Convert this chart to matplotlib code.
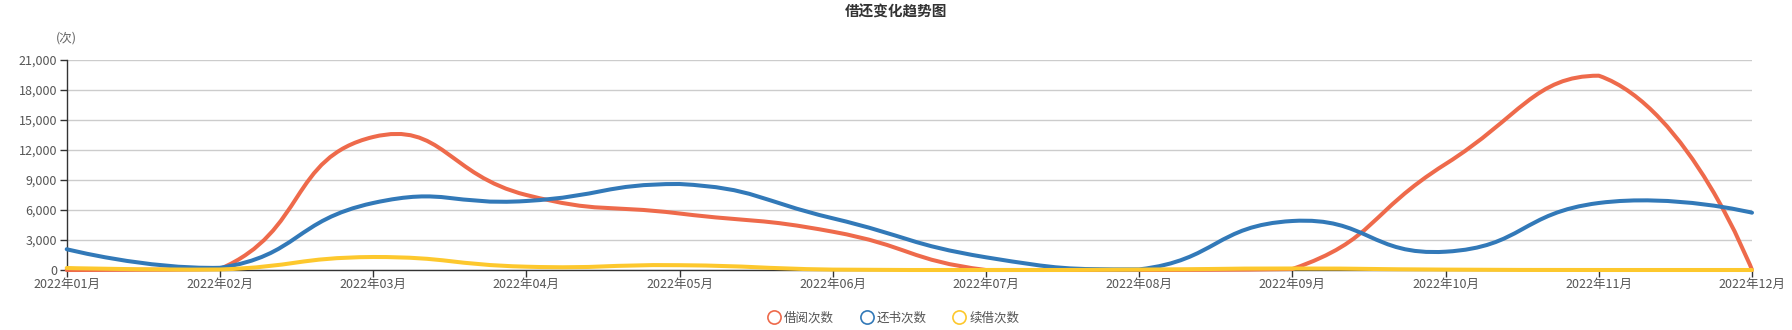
import numpy as np
import matplotlib
matplotlib.use("Agg")
import matplotlib.pyplot as plt
from matplotlib.path import Path
from matplotlib.patches import PathPatch
from matplotlib.lines import Line2D
from matplotlib.ticker import FuncFormatter, MultipleLocator

plt.rcParams['font.family'] = ['Noto Sans CJK SC', 'DejaVu Sans']

months = ['2022年01月', '2022年02月', '2022年03月', '2022年04月', '2022年05月', '2022年06月',
          '2022年07月', '2022年08月', '2022年09月', '2022年10月', '2022年11月', '2022年12月']
borrow = [0, 100, 13300, 7500, 5650, 3830, 0, 0, 100, 10600, 19430, 0]
returned = [2080, 220, 6700, 6900, 8600, 5170, 1270, 60, 4900, 1830, 6700, 5730]
renew = [200, 50, 1300, 330, 480, 40, 0, 40, 150, 40, 0, 0]
names = ['借阅次数', '还书次数', '续借次数']
colors = ['#ee6a4b', '#3279b8', '#fdc82d']

# rough pixel scale of the reference, used so the smoothing behaves like echarts
SX, SY = 153.2, 0.01


def smooth_path(vals, smooth=0.5):
    # echarts-style bezier smoothing, control points kept inside the data bbox
    pts = np.array([(i * SX, v * SY) for i, v in enumerate(vals)])
    lo, hi = pts.min(axis=0), pts.max(axis=0)
    n = len(pts)
    cin, cout = pts.copy(), pts.copy()
    for k in range(1, n - 1):
        p, prev, nxt = pts[k], pts[k - 1], pts[k + 1]
        v = nxt - prev
        lp = np.hypot(*(p - prev))
        ln = np.hypot(*(nxt - p))
        r = ln / (ln + lp)
        cout[k] = np.clip(p + v * smooth * r, lo, hi)
        cin[k] = np.clip(p - v * smooth * (1 - r), lo, hi)
    verts = [pts[0]]
    codes = [Path.MOVETO]
    for k in range(1, n):
        verts += [cout[k - 1], cin[k], pts[k]]
        codes += [Path.CURVE4] * 3
    verts = [(x / SX, y / SY) for x, y in verts]
    return Path(verts, codes)


fig = plt.figure(figsize=(17.92, 3.30), dpi=100)
ax = fig.add_axes([66.7 / 1792, 60 / 330, (1752 - 66.7) / 1792, 210 / 330])

for vals, c in zip([borrow, returned, renew], colors):
    ax.add_patch(PathPatch(smooth_path(vals), facecolor='none', edgecolor=c,
                           lw=2.9, capstyle='round', joinstyle='round', clip_on=False, zorder=3))

ax.set_xlim(0, len(months) - 1)
ax.set_ylim(0, 21000)
ax.yaxis.set_major_locator(MultipleLocator(3000))
ax.yaxis.set_major_formatter(FuncFormatter(lambda v, p: f'{int(v):,}'))
ax.set_xticks(range(len(months)))
ax.set_xticklabels(months)
ax.grid(axis='y', color='#cccccc', lw=1)
ax.set_axisbelow(True)
for s in ['top', 'right']:
    ax.spines[s].set_visible(False)
for s in ['left', 'bottom']:
    ax.spines[s].set_color('#333333')
    ax.spines[s].set_linewidth(1)
ax.tick_params(axis='both', colors='#333333', labelcolor='#555555', labelsize=9, length=5, width=1)
ax.tick_params(axis='x', pad=1)
ax.tick_params(axis='y', pad=2)

fig.text(66 / 1792, 1 - 38 / 330, '(次)', fontsize=9, color='#666666', ha='center', va='center')
fig.text(0.5, 1 - 12 / 330, '借还变化趋势图', fontsize=10.5, fontweight='bold', color='#333333',
         ha='center', va='center')

handles = [Line2D([], [], marker='o', ls='none', markersize=9.5, markerfacecolor='none',
                  markeredgecolor=c, markeredgewidth=1.2) for c in colors]
fig.legend(handles, names, loc='center', bbox_to_anchor=(893 / 1792, 1 - 318 / 330), ncol=3,
           frameon=False, fontsize=9, handletextpad=0.2, columnspacing=2.0, labelcolor='#555555',
           handlelength=1.2)

fig.savefig('out.png', dpi=100)
